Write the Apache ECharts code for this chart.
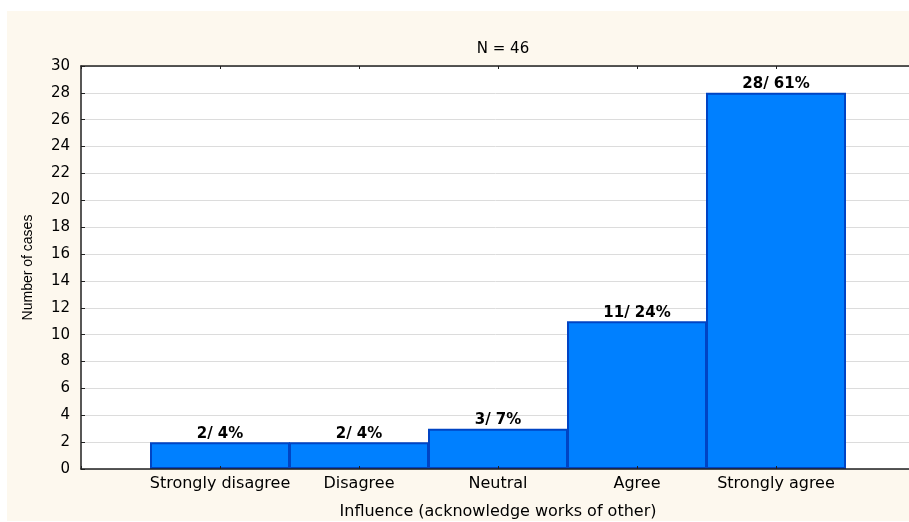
<!DOCTYPE html>
<html>
<head>
<meta charset="utf-8">
<script src="https://cdn.jsdelivr.net/npm/echarts@6/dist/echarts.min.js"></script>
<style>html,body{margin:0;padding:0;background:#fff}#c{width:909px;height:522px}</style>
</head>
<body>
<div id="c"></div>
<script>
var categories = ['', 'Strongly disagree', 'Disagree', 'Neutral', 'Agree', 'Strongly agree', ''];
var counts = ['-', 2, 2, 3, 11, 28, '-'];
var percents = [null, 4, 4, 7, 24, 61, null];
var yTicks = {min: 0, max: 30, interval: 2};
var titleText = 'N = 46';
var xName = 'Influence (acknowledge works of other)';
var yName = 'Number of cases';

var FONT = 'DejaVu Sans';
var chart = echarts.init(document.getElementById('c'), null, {renderer: 'canvas'});
chart.setOption({
  backgroundColor: '#ffffff',
  animation: false,
  graphic: [{
    type: 'rect', z: -10, silent: true,
    shape: {x: 7, y: 11, width: 902, height: 510},
    style: {fill: '#fdf8ee'}
  }],
  title: {
    text: titleText, left: 498, top: 37, textAlign: 'center',
    textStyle: {fontFamily: FONT, fontSize: 15, fontWeight: 'normal', color: '#000'}
  },
  grid: {left: 81, top: 66, width: 834, height: 403, outerBoundsMode: 'none', containLabel: false,
         show: true, backgroundColor: '#ffffff', borderWidth: 0},
  xAxis: [{
    type: 'category', data: categories, boundaryGap: false, position: 'bottom',
    name: xName, nameLocation: 'middle', nameGap: 35,
    nameTextStyle: {fontFamily: FONT, fontSize: 16, color: '#000'},
    axisLine: {lineStyle: {color: '#202020', width: 1.5}},
    axisTick: {inside: true, length: 3, lineStyle: {color: '#202020'}},
    axisLabel: {fontFamily: FONT, fontSize: 16, color: '#000', margin: 7, interval: 0},
    splitLine: {show: false}, z: 10
  }, {
    type: 'category', data: categories, boundaryGap: false, position: 'top',
    axisLine: {lineStyle: {color: '#202020', width: 1.5}},
    axisTick: {inside: true, length: 3, lineStyle: {color: '#202020'}},
    axisLabel: {show: false}, splitLine: {show: false}
  }],
  yAxis: {
    type: 'value', min: yTicks.min, max: yTicks.max, interval: yTicks.interval,
    name: yName, nameLocation: 'middle', nameGap: 46, nameRotate: 90,
    nameTextStyle: {fontFamily: 'Liberation Sans', fontSize: 14, color: '#000'},
    axisLine: {show: true, lineStyle: {color: '#202020', width: 1.5}},
    axisTick: {show: true, inside: true, length: 4, lineStyle: {color: '#202020'}},
    axisLabel: {fontFamily: FONT, fontSize: 15, color: '#000', margin: 11},
    splitLine: {show: true, lineStyle: {color: '#dcdcdc', width: 1}}
  },
  series: [{
    type: 'bar', data: counts, barWidth: 140, xAxisIndex: 0,
    itemStyle: {color: '#0080ff', borderColor: '#0044c4', borderWidth: 2},
    label: {
      show: true, position: 'top', distance: 1,
      fontFamily: FONT, fontSize: 15, fontWeight: 'bold', color: '#000',
      formatter: function (p) { return p.value + '/ ' + percents[p.dataIndex] + '%'; }
    }
  }]
});
</script>
</body>
</html>
